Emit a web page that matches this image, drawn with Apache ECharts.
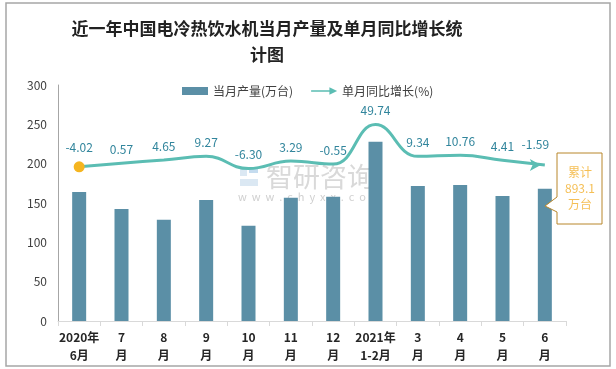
<!DOCTYPE html>
<html>
<head>
<meta charset="utf-8">
<script src="https://cdn.jsdelivr.net/npm/echarts@6/dist/echarts.min.js"></script>
<style>html,body{margin:0;padding:0;background:#fff}#c{width:616px;height:369px}</style>
</head>
<body>
<div id="c"></div>
<script>
var categories = ['2020年\n6月','7\n月','8\n月','9\n月','10\n月','11\n月','12\n月','2021年\n1-2月','3\n月','4\n月','5\n月','6\n月'];
var production = [164, 142.5, 128.6, 153.8, 121, 156.8, 158, 228, 171.5, 172.8, 159, 168];
var growth = [-4.02, 0.57, 4.65, 9.27, -6.30, 3.29, -0.55, 49.74, 9.34, 10.76, 4.41, -1.59];
var yTicks = [0, 50, 100, 150, 200, 250, 300];
var titleText = '近一年中国电冷热饮水机当月产量及单月同比增长统\n计图';
var noteText = '累计\n893.1\n万台';

var FONT = '"Noto Sans CJK SC","Noto Sans",sans-serif';
var lineData = growth.map(function (v, i) {
  var d = {value: v};
  if (i === 0) {
    d.symbol = 'circle'; d.symbolSize = 11;
    d.itemStyle = {color: '#f5b520'};
  } else if (i === growth.length - 1) {
    d.symbol = 'arrow'; d.symbolSize = [9, 11]; d.symbolRotate = -90;
    d.symbolOffset = [-4, 0];
    d.itemStyle = {color: '#5bbdb3'};
  } else {
    d.symbol = 'circle'; d.symbolSize = 0.1;
  }
  return d;
});

var chart = echarts.init(document.getElementById('c'), null, {renderer: 'canvas'});
chart.setOption({
  animation: false,
  backgroundColor: '#ffffff',
  title: {
    text: titleText,
    left: 262, top: 11, textAlign: 'center',
    textStyle: {fontFamily: FONT, fontSize: 17, fontWeight: 'bold', color: '#222', lineHeight: 26}
  },
  legend: {
    left: 177, top: 80, itemGap: 18, itemWidth: 26, itemHeight: 8,
    textStyle: {fontFamily: FONT, fontSize: 12, color: '#404040'},
    data: [
      {name: '当月产量(万台)', icon: 'rect'},
      {name: '单月同比增长(%)', icon: 'path://M0,3.2 L19,3.2 L19,0 L27,4 L19,8 L19,4.8 L0,4.8 Z'}
    ]
  },
  grid: {left: 58, right: 50, top: 85, bottom: 48},
  xAxis: {
    type: 'category', data: categories,
    axisLine: {lineStyle: {color: '#d9d9d9', width: 1}},
    axisTick: {show: true, length: 5, lineStyle: {color: '#d9d9d9'}},
    axisLabel: {fontFamily: FONT, fontSize: 12, fontWeight: 'bold', color: '#262626', lineHeight: 18, margin: 7, interval: 0}
  },
  yAxis: [{
    type: 'value', min: 0, max: 300, interval: 50,
    axisLine: {show: true, lineStyle: {color: '#a6a6a6'}},
    axisTick: {show: false}, splitLine: {show: false},
    axisLabel: {fontFamily: FONT, fontSize: 12, color: '#404040', margin: 11}
  }, {
    type: 'value', min: -200, max: 100, show: false, splitLine: {show: false}
  }],
  series: [{
    name: '当月产量(万台)', type: 'bar', data: production, barWidth: 14,
    itemStyle: {color: '#5b8fa6'}, z: 2
  }, {
    name: '单月同比增长(%)', type: 'line', yAxisIndex: 1, data: lineData,
    smooth: 0.45, showSymbol: true,
    color: '#5bbdb3',
    lineStyle: {color: '#5bbdb3', width: 3},
    itemStyle: {color: '#5bbdb3'},
    label: {show: true, position: 'top', distance: 8, fontFamily: FONT, fontSize: 12, color: '#31859c',
      formatter: function (p) { return p.value.toFixed(2); }},
    z: 3
  }],
  graphic: [
    {type: 'rect', shape: {x: 6, y: 3, width: 604, height: 363}, style: {fill: 'none', stroke: '#a6a6a6', lineWidth: 1.5}, silent: true, z: 0},
    {type: 'group', left: 238, top: 163, silent: true, z: 1, children: [
      {type: 'rect', shape: {x: 2, y: 4, width: 7, height: 9}, style: {fill: '#dbe8f3'}},
      {type: 'rect', shape: {x: 11, y: 4, width: 9, height: 6}, style: {fill: '#c5dcef'}},
      {type: 'rect', shape: {x: 2, y: 16, width: 18, height: 7}, style: {fill: '#dbe8f3'}},
      {type: 'text', x: 28, y: 0, style: {text: '智研咨询', fontFamily: FONT, fontSize: 27, fill: '#d9d9d9'}},
      {type: 'text', x: 0, y: 28, style: {text: 'w  w  w  .  c  h  y  x  x  .  c  o  m', fontFamily: FONT, fontSize: 11, fill: '#d0d0d0'}}
    ]},
    {type: 'polygon', shape: {points: [[557,153],[602,153],[602,224],[557,224],[557,212],[545,206],[557,197]]},
      style: {fill: '#ffffff', stroke: '#b8862a', lineWidth: 1}, z: 10},
    {type: 'text', x: 580, y: 188, z: 11, style: {text: noteText, fontFamily: FONT, fontSize: 12, lineHeight: 16,
      fill: '#f5bf55', align: 'center', verticalAlign: 'middle'}}
  ]
});
</script>
</body>
</html>
